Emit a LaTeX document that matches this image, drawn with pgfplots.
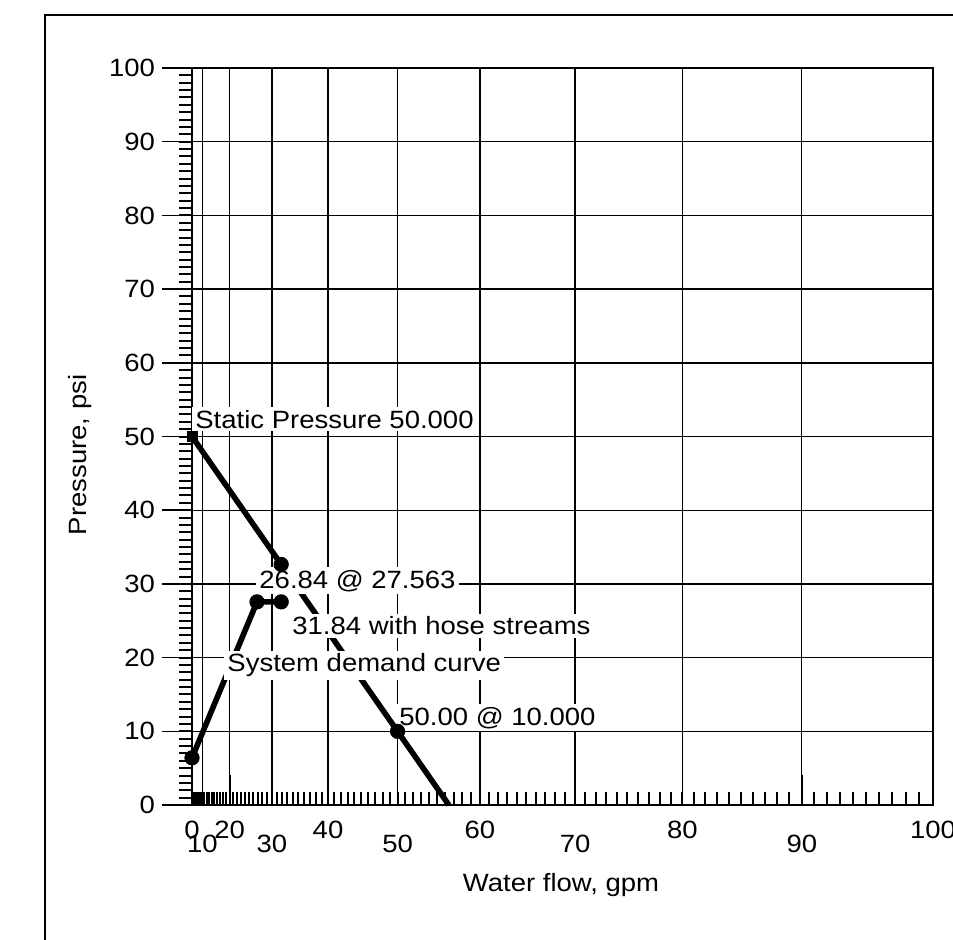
\documentclass[border=0pt]{standalone}
\usepackage{fontspec}
\setmainfont{Liberation Sans}[FakeStretch=1.1]
\usepackage{pgfplots}
\pgfplotsset{compat=1.18}

\begin{document}
\begin{tikzpicture}[font=\fontsize{12.5}{15}\selectfont]
\path[use as bounding box] (0,0) rectangle (476.5pt,469.5pt);
\draw[line width=1pt] (22.5pt,-2pt) -- (22.5pt,462pt) -- (480pt,462pt);
\begin{axis}[
  at={(96pt,67pt)}, anchor=south west,
  scale only axis, width=370.5pt, height=368.5pt,
  % hydraulic paper: flow axis is scaled as Q^1.85
  x coord trafo/.code={\pgfmathparse{exp(1.85*ln(max(#1,0.01)))}},
  xmin=0, xmax=100, ymin=0, ymax=100,
  xtick={0,20,...,100},
  xticklabels={0,20,40,60,80,100},
  extra x ticks={10,30,...,90},
  extra x tick labels={10,30,50,70,90},
  extra x tick style={grid=major, xticklabel style={yshift=-7pt}},
  minor xtick={1,2,...,99},
  ytick={0,10,...,100},
  minor ytick={1,2,...,99},
  xtick pos=left, ytick pos=left,
  xtick align=inside, ytick align=outside,
  major tick length=15pt, minor tick length=6.5pt,
  grid=major, grid style={black, line width=0.7pt},
  axis line style={line width=1.2pt},
  tick style={black, line width=0.8pt},
  minor tick style={line width=1pt},
  xticklabel style={yshift=-4.5pt},
  /pgf/number format/assume math mode=true,
  xlabel={Water flow, gpm}, ylabel={Pressure, psi},
  xlabel style={at={(rel axis cs:0.498,-0.1085)}, anchor=center},
  ylabel style={at={(rel axis cs:-0.151,0.475)}, anchor=center},
  clip=false,
]
% water supply curve
\addplot[black, line width=2.8pt] coordinates {(0,50) (31.84,32.64) (50,10) (56.4,0)};
% system demand curve
\addplot[black, line width=2.8pt] coordinates {(0,6.4) (26.84,27.563) (31.84,27.563)};
\addplot[only marks, mark=*, mark size=3.6pt, black] coordinates {(31.84,32.64) (50,10) (0,6.4) (26.84,27.563) (31.84,27.563)};
\addplot[only marks, mark=square*, mark size=2.5pt, black] coordinates {(0,50)};

\node[fill=white, inner sep=1.5pt, anchor=base west] at (rel axis cs:0,0.5115) {Static Pressure 50.000};
\node[fill=white, inner sep=1.5pt, anchor=base west] at (rel axis cs:0.0864,0.2944) {26.84 @ 27.563};
\node[fill=white, inner sep=1.5pt, anchor=base west] at (rel axis cs:0.1309,0.2307) {31.84 with hose streams};
\node[fill=white, inner sep=1.5pt, anchor=base west] at (rel axis cs:0.0432,0.1805) {System demand curve};
\node[fill=white, inner sep=1.5pt, anchor=base west] at (rel axis cs:0.2753,0.1085) {50.00 @ 10.000};
\end{axis}
\end{tikzpicture}
\end{document}
